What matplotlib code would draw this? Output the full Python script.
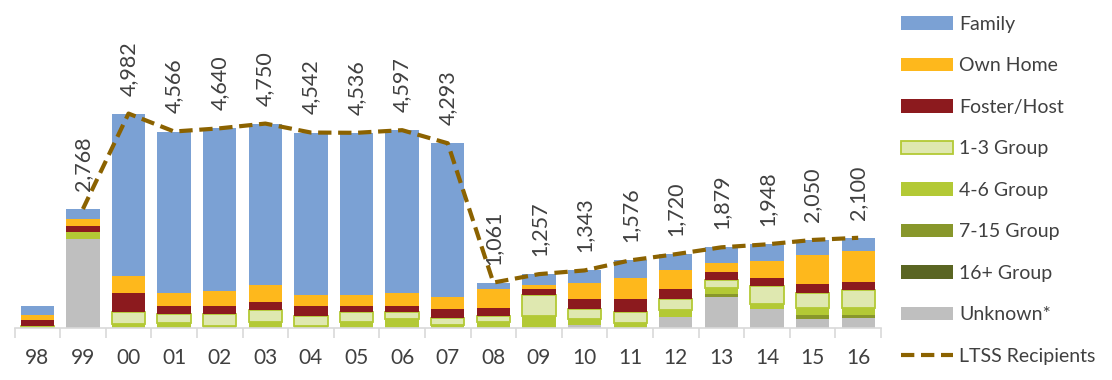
import numpy as np
import matplotlib
matplotlib.use("Agg")
import matplotlib.pyplot as plt

plt.rcParams['font.family'] = ['Lato', 'DejaVu Sans']

years = ['98', '99', '00', '01', '02', '03', '04', '05', '06', '07',
         '08', '09', '10', '11', '12', '13', '14', '15', '16']

# stacked from bottom to top
unknown = [0, 2083, 0, 0, 0, 0, 0, 0, 0, 0, 0, 0, 77, 0, 271, 726, 441, 209, 248]
group16 = [0, 0, 0, 0, 0, 0, 0, 0, 0, 0, 0, 0, 0, 0, 0, 0, 0, 0, 0]
group7_15 = [0, 0, 0, 0, 0, 0, 0, 0, 0, 0, 0, 0, 0, 0, 0, 63, 0, 93, 53]
group4_6 = [30, 155, 107, 116, 53, 153, 53, 153, 209, 70, 153, 285, 132, 130, 147, 155, 132, 179, 179]
group1_3 = [20, 0, 278, 216, 278, 271, 239, 232, 176, 162, 132, 487, 232, 255, 271, 176, 411, 348, 401]
foster = [145, 140, 427, 193, 193, 193, 232, 139, 139, 209, 193, 132, 232, 286, 232, 193, 193, 193, 193]
own_home = [120, 155, 401, 288, 341, 387, 248, 248, 294, 278, 425, 100, 387, 487, 433, 209, 387, 673, 719]
family = [205, 235, 3769, 3753, 3775, 3746, 3770, 3764, 3779, 3574, 158, 253, 283, 418, 366, 357, 384, 355, 307]

ltss = [np.nan, 2768, 4982, 4566, 4640, 4750, 4542, 4536, 4597, 4293,
        1061, 1257, 1343, 1576, 1720, 1879, 1948, 2050, 2100]

series = [
    ("Unknown*", unknown, "#bfbfbf", None),
    ("16+ Group", group16, "#5a6522", None),
    ("7-15 Group", group7_15, "#88972b", None),
    ("4-6 Group", group4_6, "#b3c935", None),
    ("1-3 Group", group1_3, "#dfe8b0", "#b3c935"),
    ("Foster/Host", foster, "#8c1a1e", None),
    ("Own Home", own_home, "#feb81c", None),
    ("Family", family, "#7ba1d4", None),
]

fig = plt.figure(figsize=(11.12, 3.8), dpi=100)
ax = fig.add_axes([14.5 / 1112, 51.7 / 380, 866.5 / 1112, 258.6 / 380])

x = np.arange(len(years))
bottom = np.zeros(len(years))
handles = {}
for name, vals, col, edge in series:
    vals = np.array(vals, dtype=float)
    if edge:
        b = ax.bar(x, vals, 0.73, bottom=bottom, color=col, edgecolor=edge, linewidth=1.3)
    else:
        b = ax.bar(x, vals, 0.73, bottom=bottom, color=col, linewidth=0)
    handles[name] = b
    bottom += vals

line, = ax.plot(x, ltss, color="#8b6200", lw=3, ls=(0, (3.2, 1.6)))

for i, v in enumerate(ltss):
    if np.isnan(v):
        continue
    ax.annotate(f"{int(v):,}", (x[i], v), xytext=(0, 13), textcoords="offset points",
                rotation=90, ha="center", va="bottom", fontsize=15.5, color="#404040")

ax.set_xlim(-0.5, len(years) - 0.5)
ax.set_ylim(0, 6000)
for s in ["top", "right", "left"]:
    ax.spines[s].set_visible(False)
ax.spines["bottom"].set_color("#d9d9d9")
ax.spines["bottom"].set_linewidth(1.2)
ax.set_yticks([])
ax.set_xticks(x)
ax.set_xticklabels(years, fontsize=15, color="#404040")
ax.tick_params(axis="x", which="major", length=0, pad=14)
ax.set_xticks(np.arange(-0.5, len(years)), minor=True)
ax.tick_params(axis="x", which="minor", length=7, color="#d9d9d9", width=1.2)

order = ["Family", "Own Home", "Foster/Host", "1-3 Group", "4-6 Group",
         "7-15 Group", "16+ Group", "Unknown*"]
h = [handles[n] for n in order] + [line]
labels = order + ["LTSS Recipients"]
fig.legend(h, labels, loc="upper left", bbox_to_anchor=(891 / 1112, 1 - 6 / 380),
           frameon=False, fontsize=14, labelcolor="#404040", handlelength=2.7,
           handleheight=0.7, handletextpad=0.3, labelspacing=1.26, borderpad=0)

fig.savefig("out.png", dpi=100)
